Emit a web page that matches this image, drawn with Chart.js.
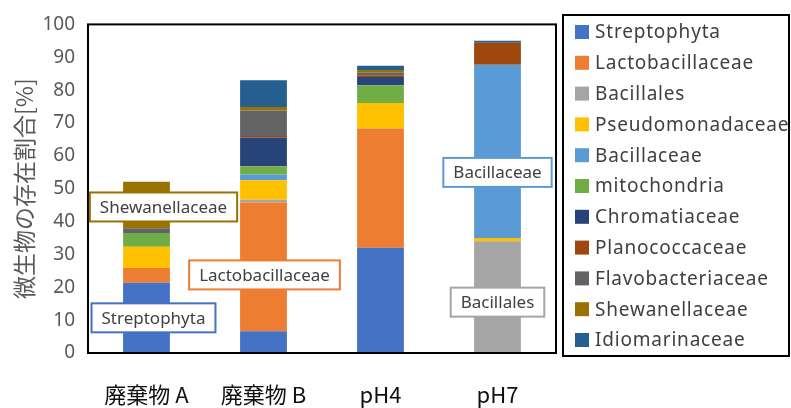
<!DOCTYPE html>
<html>
<head>
<meta charset="utf-8">
<script src="https://cdn.jsdelivr.net/npm/chart.js@4/dist/chart.umd.min.js"></script>
<style>
  html, body { margin: 0; padding: 0; background: #fff; }
  #wrap { width: 791px; height: 408px; }
</style>
</head>
<body>
<div id="wrap"><canvas id="bacteriaChart" width="791" height="408"></canvas></div>
<script>
// categories (x axis)
const categories = ["廃棄物 A", "廃棄物 B", "pH4", "pH7"];

// y axis ticks
const yMin = 0;
const yMax = 100;
const yStep = 10;

// series names and their values per category [%]
const seriesNames = [
  "Streptophyta", "Lactobacillaceae", "Bacillales", "Pseudomonadaceae",
  "Bacillaceae", "mitochondria", "Chromatiaceae", "Planococcaceae",
  "Flavobacteriaceae", "Shewanellaceae", "Idiomarinaceae"
];
const streptophyta      = [21.4,  6.6, 32.0,  0.0];
const lactobacillaceae  = [ 4.5, 39.2, 36.3,  0.0];
const bacillales        = [ 0.0,  0.8,  0.0, 34.0];
const pseudomonadaceae  = [ 6.4,  6.0,  7.8,  1.0];
const bacillaceae       = [ 0.0,  1.7,  0.0, 52.7];
const mitochondria      = [ 4.2,  2.5,  5.4,  0.0];
const chromatiaceae     = [ 0.0,  8.8,  2.5,  0.0];
const planococcaceae    = [ 0.0,  0.4,  0.5,  6.7];
const flavobacteriaceae = [ 1.5,  7.8,  0.8,  0.0];
const shewanellaceae    = [14.1,  1.1,  0.8,  0.0];
const idiomarinaceae    = [ 0.0,  8.1,  1.3,  0.6];

const seriesValues = [
  streptophyta, lactobacillaceae, bacillales, pseudomonadaceae,
  bacillaceae, mitochondria, chromatiaceae, planococcaceae,
  flavobacteriaceae, shewanellaceae, idiomarinaceae
];

const seriesColors = [
  "#4472C4", "#ED7D31", "#A5A5A5", "#FFC000", "#5B9BD5", "#70AD47",
  "#264478", "#9E480E", "#636363", "#997300", "#255E91"
];

// data labels shown in boxes: which series, which category
const labelSeries = ["Shewanellaceae", "Lactobacillaceae", "Streptophyta", "Bacillaceae", "Bacillales"];
const labelCategory = [0, 1, 0, 3, 3];
// pixel nudges from the segment centre (style only)
const labelNudge = [[17, 2], [1, 8], [7, 0], [0, 21], [0, 5]];

const datasets = seriesNames.map((name, i) => ({
  label: name,
  data: seriesValues[i],
  backgroundColor: seriesColors[i],
  borderWidth: 0,
  barPercentage: 0.4,
  categoryPercentage: 1.0
}));

// boxes, segment labels and legend
const decorPlugin = {
  id: "decor",
  afterDraw(chart) {
    const ctx = chart.ctx;
    const area = chart.chartArea;
    const xs = chart.scales.x;
    const ys = chart.scales.y;

    // plot area frame
    ctx.save();
    ctx.strokeStyle = "#000";
    ctx.lineWidth = 2;
    ctx.strokeRect(area.left, area.top, area.right - area.left, area.bottom - area.top);

    // segment labels
    ctx.font = "17px 'Noto Sans'";
    ctx.textAlign = "center";
    ctx.textBaseline = "middle";
    labelSeries.forEach((name, k) => {
      const si = seriesNames.indexOf(name);
      const ci = labelCategory[k];
      let base = 0;
      for (let j = 0; j < si; j++) base += seriesValues[j][ci];
      const mid = base + seriesValues[si][ci] / 2;
      const cx = xs.getPixelForValue(ci) + labelNudge[k][0];
      const cy = ys.getPixelForValue(mid) + labelNudge[k][1];
      const w = ctx.measureText(name).width + 20;
      const h = 29;
      ctx.fillStyle = "#fff";
      ctx.fillRect(cx - w / 2, cy - h / 2, w, h);
      ctx.strokeStyle = seriesColors[si];
      ctx.lineWidth = 2;
      ctx.strokeRect(cx - w / 2, cy - h / 2, w, h);
      ctx.fillStyle = "#404040";
      ctx.fillText(name, cx, cy + 1);
    });

    // legend box
    const lx = 563, ly = 15, lw = 226, lh = 341;
    ctx.strokeStyle = "#000";
    ctx.lineWidth = 2;
    ctx.strokeRect(lx, ly, lw, lh);
    ctx.font = "19px 'Noto Sans'";
    ctx.letterSpacing = "0.8px";
    ctx.textAlign = "left";
    ctx.textBaseline = "middle";
    chart.data.datasets.forEach((ds, i) => {
      const rowY = 32 + i * 30.8;
      ctx.fillStyle = ds.backgroundColor;
      ctx.fillRect(lx + 12, rowY - 7, 14, 14);
      ctx.fillStyle = "#404040";
      ctx.fillText(ds.label, lx + 32, rowY + 1);
    });
    ctx.restore();
  }
};

const ctx = document.getElementById("bacteriaChart").getContext("2d");
window.bacteriaChart = new Chart(ctx, {
  type: "bar",
  data: {
    labels: categories,
    datasets: datasets
  },
  options: {
    responsive: false,
    animation: false,
    devicePixelRatio: 1,
    layout: { padding: { left: 0, top: 16, right: 235, bottom: 0 } },
    plugins: {
      legend: { display: false },
      tooltip: { enabled: false }
    },
    scales: {
      x: {
        stacked: true,
        grid: { display: false, drawTicks: false },
        border: { display: false },
        ticks: {
          color: "#111",
          padding: 28,
          font: { family: "'Noto Sans CJK JP'", size: 22 }
        },
        afterFit: s => { s.height = 55; }
      },
      y: {
        stacked: true,
        min: yMin,
        max: yMax,
        grid: { display: false, drawTicks: false },
        border: { display: false },
        ticks: {
          stepSize: yStep,
          color: "#595959",
          padding: 13,
          font: { family: "'Noto Sans'", size: 19 }
        },
        title: {
          display: true,
          text: "微生物の存在割合[%]",
          color: "#595959",
          padding: { top: 10, bottom: 0 },
          font: { family: "'Noto Sans CJK JP'", size: 23 }
        },
        afterFit: s => { s.width = 88; }
      }
    }
  },
  plugins: [decorPlugin]
});
</script>
</body>
</html>
